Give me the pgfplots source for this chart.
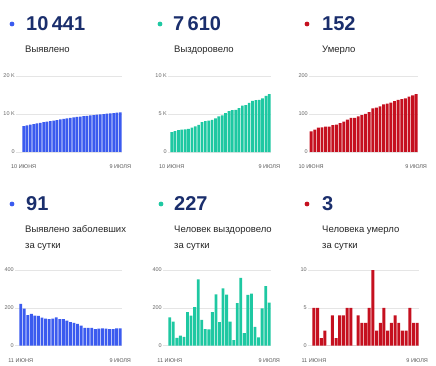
\documentclass[border=0pt]{standalone}
\usepackage{fontspec}
\setmainfont{Liberation Sans}
\usepackage{pgfplots}
\pgfplotsset{compat=1.18}
\definecolor{cblue}{HTML}{3B5BEF}
\definecolor{cteal}{HTML}{1EC8A2}
\definecolor{cred}{HTML}{C5101F}
\definecolor{navy}{HTML}{1A2E6C}
\pgfplotsset{mini/.style={scale only axis, anchor=south west, ymin=0, enlargelimits=false,
  ybar, bar width=0.8, axis line style={draw=none}, tick style={draw=none},
  scaled y ticks=false,
  ymajorgrids, grid style={line width=0.5pt, draw=black!10},
  yticklabel style={font=\fontsize{5.5}{6}\selectfont, text=black!60, inner sep=1pt},
  xticklabel style={font=\fontsize{5.5}{6}\selectfont, text=black!65, anchor=base, yshift=-12.5pt, inner sep=0pt},
  clip=false}}
\begin{document}
\begin{tikzpicture}
\path[use as bounding box] (0,0) rectangle (436pt,-366pt);
\tikzset{num/.style={anchor=base west, inner sep=0pt, font=\fontsize{20}{20}\selectfont\bfseries, text=navy},
 lab/.style={anchor=base west, inner sep=0pt, font=\fontsize{9.5}{10}\selectfont, text=black!85}}
% headers top
\fill[cblue] (12pt,-24pt) circle (2.4pt);
\node[num] at (26pt,-31pt) {10\,441};
\node[lab] at (25pt,-52.3pt) {Выявлено};
\fill[cteal] (160pt,-24pt) circle (2.4pt);
\node[num] at (173pt,-31pt) {7\,610};
\node[lab] at (174pt,-52.3pt) {Выздоровело};
\fill[cred] (307pt,-24pt) circle (2.4pt);
\node[num] at (322pt,-31pt) {152};
\node[lab] at (322pt,-52.3pt) {Умерло};
% headers bottom
\fill[cblue] (12pt,-204pt) circle (2.4pt);
\node[num] at (26pt,-210pt) {91};
\node[lab] at (25pt,-232.5pt) {Выявлено заболевших};
\node[lab] at (25pt,-248.5pt) {за сутки};
\fill[cteal] (161pt,-204pt) circle (2.4pt);
\node[num] at (174pt,-210pt) {227};
\node[lab] at (174pt,-232.5pt) {Человек выздоровело};
\node[lab] at (174pt,-248.5pt) {за сутки};
\fill[cred] (307pt,-204pt) circle (2.4pt);
\node[num] at (322pt,-210pt) {3};
\node[lab] at (322pt,-232.5pt) {Человека умерло};
\node[lab] at (322pt,-248.5pt) {за сутки};

% Panel 1
\begin{axis}[mini, at={(16pt,-152pt)}, width=106pt, height=76pt, xmin=-2.3, xmax=29.5,
  ymax=20000, ytick={0,10000,20000}, yticklabels={0,10 K,20 K},
  xtick={0,29}, xticklabels={10 ИЮНЯ,9 ИЮЛЯ}]
\addplot[fill=cblue, draw=none] coordinates {(0,6777)(1,6998)(2,7194)(3,7355)(4,7523)(5,7682)(6,7839)(7,7987)(8,8130)(9,8270)(10,8413)(11,8563)(12,8703)(13,8843)(14,8976)(15,9100)(16,9220)(17,9335)(18,9441)(19,9535)(20,9629)(21,9723)(22,9810)(23,9900)(24,9992)(25,10082)(26,10170)(27,10258)(28,10350)(29,10441)};
\end{axis}
% Panel 2
\begin{axis}[mini, at={(168pt,-152pt)}, width=103pt, height=76pt, xmin=-1.1, xmax=29.5,
  ymax=10000, ytick={0,5000,10000}, yticklabels={0,5 K,10 K},
  xtick={0,29}, xticklabels={10 ИЮНЯ,9 ИЮЛЯ}]
\addplot[fill=cteal, draw=none] coordinates {(0,2610)(1,2760)(2,2887)(3,2929)(4,2982)(5,3028)(6,3206)(7,3365)(8,3569)(9,3919)(10,4056)(11,4144)(12,4230)(13,4408)(14,4679)(15,4804)(16,5107)(17,5377)(18,5504)(19,5534)(20,5759)(21,6117)(22,6184)(23,6452)(24,6727)(25,6827)(26,6871)(27,7068)(28,7383)(29,7610)};
\end{axis}
% Panel 3
\begin{axis}[mini, at={(309pt,-152pt)}, width=109pt, height=76pt, xmin=-0.6, xmax=29.5,
  ymax=200, ytick={0,100,200}, yticklabels={0,100,200},
  xtick={0,29}, xticklabels={10 ИЮНЯ,9 ИЮЛЯ}]
\addplot[fill=cred, draw=none] coordinates {(0,54)(1,59)(2,64)(3,65)(4,67)(5,67)(6,71)(7,72)(8,76)(9,80)(10,85)(11,90)(12,90)(13,94)(14,97)(15,100)(16,105)(17,115)(18,117)(19,120)(20,125)(21,127)(22,130)(23,134)(24,137)(25,139)(26,141)(27,146)(28,149)(29,152)};
\end{axis}
% Panel 4
\begin{axis}[mini, at={(15pt,-345.7pt)}, width=107pt, height=75.7pt, xmin=-1.6, xmax=28.5,
  ymax=400, ytick={0,200,400}, yticklabels={0,200,400},
  xtick={0,28}, xticklabels={11 ИЮНЯ,9 ИЮЛЯ}]
\addplot[fill=cblue, draw=none] coordinates {(0,221)(1,196)(2,161)(3,168)(4,159)(5,157)(6,148)(7,143)(8,140)(9,143)(10,150)(11,140)(12,140)(13,133)(14,124)(15,120)(16,115)(17,106)(18,94)(19,94)(20,94)(21,87)(22,90)(23,92)(24,90)(25,88)(26,88)(27,92)(28,91)};
\end{axis}
% Panel 5
\begin{axis}[mini, at={(163pt,-345.7pt)}, width=108pt, height=75.7pt, xmin=-1.9, xmax=28.5,
  ymax=400, ytick={0,200,400}, yticklabels={0,200,400},
  xtick={0,28}, xticklabels={11 ИЮНЯ,9 ИЮЛЯ}]
\addplot[fill=cteal, draw=none] coordinates {(0,150)(1,127)(2,42)(3,53)(4,46)(5,178)(6,159)(7,204)(8,350)(9,137)(10,88)(11,86)(12,178)(13,271)(14,125)(15,303)(16,270)(17,127)(18,30)(19,225)(20,358)(21,67)(22,268)(23,275)(24,100)(25,44)(26,197)(27,315)(28,227)};
\end{axis}
% Panel 6
\begin{axis}[mini, at={(308pt,-345.7pt)}, width=111pt, height=75.7pt, xmin=-1.6, xmax=28.5,
  ymax=10, ytick={0,5,10}, yticklabels={0,5,10},
  xtick={0,28}, xticklabels={11 ИЮНЯ,9 ИЮЛЯ}]
\addplot[fill=cred, draw=none] coordinates {(0,5)(1,5)(2,1)(3,2)(4,0)(5,4)(6,1)(7,4)(8,4)(9,5)(10,5)(11,0)(12,4)(13,3)(14,3)(15,5)(16,10)(17,2)(18,3)(19,5)(20,2)(21,3)(22,4)(23,3)(24,2)(25,2)(26,5)(27,3)(28,3)};
\end{axis}
\end{tikzpicture}
\end{document}
